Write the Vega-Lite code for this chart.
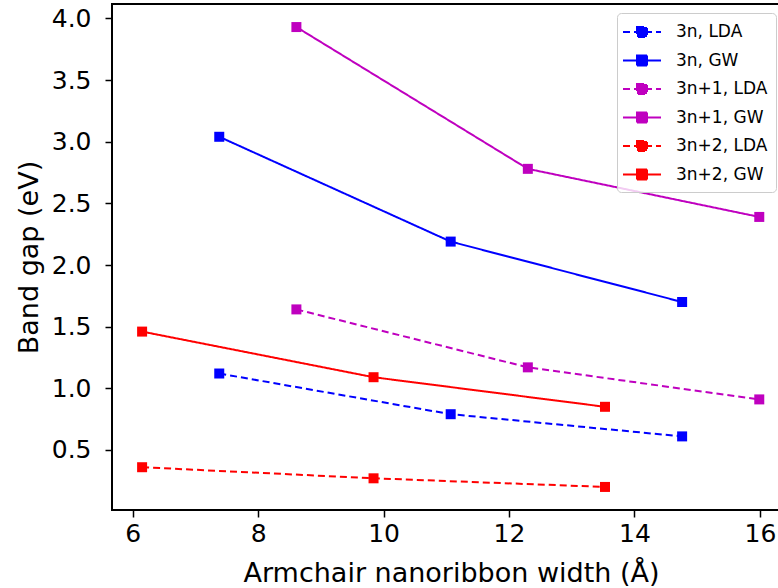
{
  "$schema": "https://vega.github.io/schema/vega-lite/v6.json",
  "autosize": {"type": "none"},
  "padding": {"left": 112, "top": 4, "right": 0, "bottom": 78},
  "width": 678,
  "height": 506,
  "background": "white",
  "config": {
    "font": "DejaVu Sans",
    "view": {"stroke": "black", "strokeWidth": 2},
    "axis": {
      "domain": false,
      "grid": false,
      "ticks": true,
      "tickColor": "black",
      "tickSize": 7,
      "tickWidth": 1.5,
      "labelColor": "black",
      "labelFont": "DejaVu Sans",
      "labelFontSize": 25,
      "titleFont": "DejaVu Sans",
      "titleFontSize": 27,
      "titleFontWeight": "normal",
      "titleColor": "black"
    }
  },
  "data": {
    "values": [
      {"series": "3n, LDA", "width": 7.38, "gap": 1.12},
      {"series": "3n, LDA", "width": 11.07, "gap": 0.79},
      {"series": "3n, LDA", "width": 14.76, "gap": 0.61},
      {"series": "3n, GW", "width": 7.38, "gap": 3.04},
      {"series": "3n, GW", "width": 11.07, "gap": 2.19},
      {"series": "3n, GW", "width": 14.76, "gap": 1.70},
      {"series": "3n+1, LDA", "width": 8.61, "gap": 1.64},
      {"series": "3n+1, LDA", "width": 12.30, "gap": 1.17},
      {"series": "3n+1, LDA", "width": 15.99, "gap": 0.91},
      {"series": "3n+1, GW", "width": 8.61, "gap": 3.93},
      {"series": "3n+1, GW", "width": 12.30, "gap": 2.78},
      {"series": "3n+1, GW", "width": 15.99, "gap": 2.39},
      {"series": "3n+2, LDA", "width": 6.15, "gap": 0.36},
      {"series": "3n+2, LDA", "width": 9.84, "gap": 0.27},
      {"series": "3n+2, LDA", "width": 13.53, "gap": 0.20},
      {"series": "3n+2, GW", "width": 6.15, "gap": 1.46},
      {"series": "3n+2, GW", "width": 9.84, "gap": 1.09},
      {"series": "3n+2, GW", "width": 13.53, "gap": 0.85}
    ]
  },
  "encoding": {
    "x": {
      "field": "width",
      "type": "quantitative",
      "scale": {"domain": [5.67, 16.48], "nice": false, "zero": false},
      "axis": {"values": [6, 8, 10, 12, 14, 16], "title": "Armchair nanoribbon width (Å)", "labelPadding": 4, "titlePadding": 14}
    },
    "y": {
      "field": "gap",
      "type": "quantitative",
      "scale": {"domain": [0.013, 4.117], "nice": false, "zero": false},
      "axis": {"values": [0.5, 1, 1.5, 2, 2.5, 3, 3.5, 4], "format": ".1f", "title": "Band gap (eV)", "labelPadding": 14, "titlePadding": 8}
    },
    "color": {
      "field": "series",
      "type": "nominal",
      "scale": {
        "domain": ["3n, LDA", "3n, GW", "3n+1, LDA", "3n+1, GW", "3n+2, LDA", "3n+2, GW"],
        "range": ["#0000ff", "#0000ff", "#bf00bf", "#bf00bf", "#ff0000", "#ff0000"]
      },
      "legend": {
        "title": null,
        "orient": "none",
        "legendX": 505,
        "legendY": 9,
        "symbolType": "M-1.9,0L1.9,0M-0.5,-0.5L0.5,-0.5L0.5,0.5L-0.5,0.5Z",
        "symbolSize": 400,
        "symbolOffset": 6,
        "symbolStrokeWidth": 2,
        "labelFontSize": 17,
        "labelFont": "DejaVu Sans",
        "labelColor": "black",
        "labelOffset": 23,
        "rowPadding": 8.5,
        "padding": 8,
        "fillColor": "rgba(255,255,255,0.8)",
        "strokeColor": "#cccccc",
        "cornerRadius": 4,
        "encode": {
          "symbols": {"update": {"fill": {"scale": "color", "field": "value"}}}
        }
      }
    },
    "strokeDash": {
      "field": "series",
      "type": "nominal",
      "scale": {
        "domain": ["3n, LDA", "3n, GW", "3n+1, LDA", "3n+1, GW", "3n+2, LDA", "3n+2, GW"],
        "range": [[7, 4], [1, 0], [7, 4], [1, 0], [7, 4], [1, 0]]
      },
      "legend": {
        "title": null,
        "orient": "none",
        "legendX": 505,
        "legendY": 9,
        "symbolType": "M-1.9,0L1.9,0M-0.5,-0.5L0.5,-0.5L0.5,0.5L-0.5,0.5Z",
        "symbolSize": 400,
        "symbolOffset": 6,
        "symbolStrokeWidth": 2,
        "labelFontSize": 17,
        "labelFont": "DejaVu Sans",
        "labelColor": "black",
        "labelOffset": 23,
        "rowPadding": 8.5,
        "padding": 8,
        "fillColor": "rgba(255,255,255,0.8)",
        "strokeColor": "#cccccc",
        "cornerRadius": 4,
        "encode": {
          "symbols": {"update": {"fill": {"scale": "color", "field": "value"}}}
        }
      }
    }
  },
  "layer": [
    {"mark": {"type": "line", "strokeWidth": 2}},
    {"mark": {"type": "point", "shape": "square", "filled": true, "size": 100, "opacity": 1}, "encoding": {"strokeDash": {"value": [1, 0]}}}
  ]
}
